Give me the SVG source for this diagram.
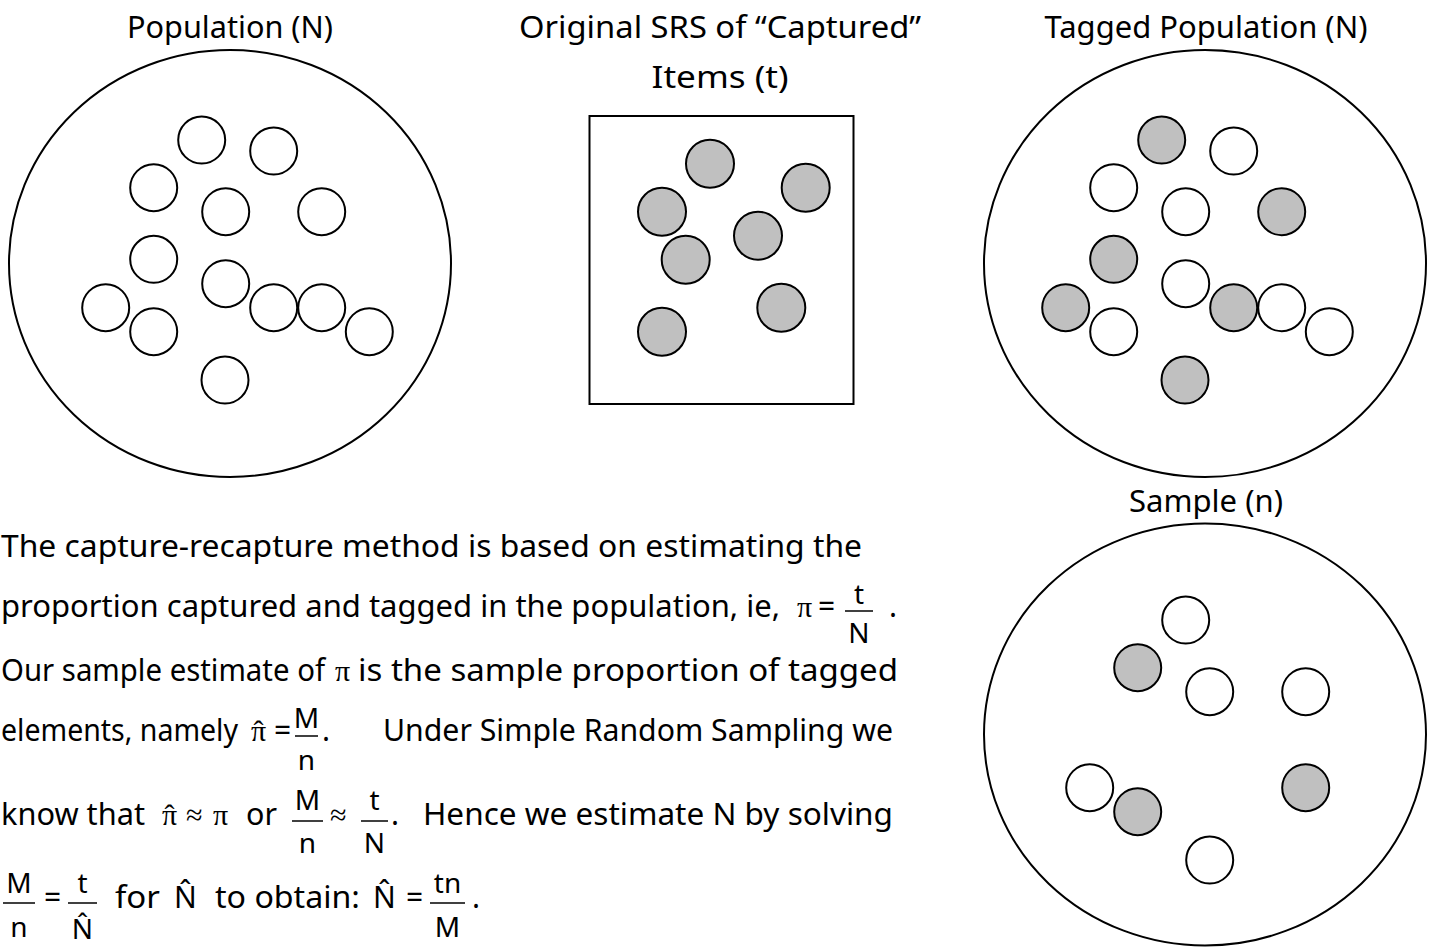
<svg xmlns="http://www.w3.org/2000/svg" width="1432" height="947" viewBox="0 0 1432 947">
<style>
.t{font-family:"Noto Sans","DejaVu Sans",sans-serif;font-size:30px;fill:#000}
.ti{font-family:"Noto Sans","DejaVu Sans",sans-serif;font-size:31px;fill:#000;text-anchor:middle}
.f{font-family:"Noto Sans","DejaVu Sans",sans-serif;font-size:28px;fill:#000;text-anchor:middle}
.m{font-family:"Liberation Serif","Times New Roman",serif;font-size:30px;fill:#000}
.h{font-family:"Liberation Serif","Times New Roman",serif;font-size:30px;fill:#000;text-anchor:middle}
.big{fill:#fff;stroke:#000;stroke-width:2}
.w{fill:#fff;stroke:#000;stroke-width:2}
.g{fill:#c0c0c0;stroke:#000;stroke-width:2}
.bar{stroke:#000;stroke-width:1.5}
</style>
<rect width="1432" height="947" fill="#fff"/>

<g id="population">
<text class="ti" x="230" y="38" textLength="206" lengthAdjust="spacingAndGlyphs">Population (N)</text>
<ellipse class="big" cx="230" cy="263.5" rx="221" ry="213.5"/>
<circle class="w" cx="201.7" cy="140" r="23.5"/>
<circle class="w" cx="273.7" cy="151" r="23.5"/>
<circle class="w" cx="153.7" cy="187.7" r="23.5"/>
<circle class="w" cx="225.7" cy="211.7" r="23.5"/>
<circle class="w" cx="321.7" cy="211.7" r="23.5"/>
<circle class="w" cx="153.7" cy="259.3" r="23.5"/>
<circle class="w" cx="225.7" cy="283.7" r="23.5"/>
<circle class="w" cx="105.7" cy="307.7" r="23.5"/>
<circle class="w" cx="273.7" cy="307.7" r="23.5"/>
<circle class="w" cx="321.7" cy="307.7" r="23.5"/>
<circle class="w" cx="153.7" cy="331.7" r="23.5"/>
<circle class="w" cx="369.3" cy="331.7" r="23.5"/>
<circle class="w" cx="225" cy="380" r="23.5"/>
</g>

<g id="srs-box">
<text class="ti" x="720" y="38" textLength="402" lengthAdjust="spacingAndGlyphs">Original SRS of “Captured”</text>
<text class="ti" x="720" y="88" textLength="137" lengthAdjust="spacingAndGlyphs">Items (t)</text>
<rect x="589.5" y="116" width="264" height="288" fill="#fff" stroke="#000" stroke-width="2"/>
<circle class="g" cx="710" cy="163.7" r="24"/>
<circle class="g" cx="805.7" cy="187.7" r="24"/>
<circle class="g" cx="662" cy="211.7" r="24"/>
<circle class="g" cx="758" cy="235.7" r="24"/>
<circle class="g" cx="685.7" cy="259.7" r="24"/>
<circle class="g" cx="781.3" cy="307.7" r="24"/>
<circle class="g" cx="662" cy="331.7" r="24"/>
</g>

<g id="tagged">
<text class="ti" x="1206" y="38" textLength="323" lengthAdjust="spacingAndGlyphs">Tagged Population (N)</text>
<ellipse class="big" cx="1205" cy="263.5" rx="221" ry="213.5"/>
<circle class="g" cx="1161.7" cy="140" r="23.5"/>
<circle class="w" cx="1233.7" cy="151" r="23.5"/>
<circle class="w" cx="1113.7" cy="187.7" r="23.5"/>
<circle class="w" cx="1185.7" cy="211.7" r="23.5"/>
<circle class="g" cx="1281.7" cy="211.7" r="23.5"/>
<circle class="g" cx="1113.7" cy="259.3" r="23.5"/>
<circle class="w" cx="1185.7" cy="283.7" r="23.5"/>
<circle class="g" cx="1065.7" cy="307.7" r="23.5"/>
<circle class="g" cx="1233.7" cy="307.7" r="23.5"/>
<circle class="w" cx="1281.7" cy="307.7" r="23.5"/>
<circle class="w" cx="1113.7" cy="331.7" r="23.5"/>
<circle class="w" cx="1329.3" cy="331.7" r="23.5"/>
<circle class="g" cx="1185" cy="380" r="23.5"/>
</g>

<g id="sample">
<text class="ti" x="1206" y="512" textLength="154" lengthAdjust="spacingAndGlyphs">Sample (n)</text>
<ellipse class="big" cx="1205" cy="734.5" rx="221" ry="211"/>
<circle class="w" cx="1185.7" cy="620" r="23.5"/>
<circle class="g" cx="1137.7" cy="667.7" r="23.5"/>
<circle class="w" cx="1209.7" cy="691.7" r="23.5"/>
<circle class="w" cx="1305.7" cy="691.7" r="23.5"/>
<circle class="w" cx="1089.7" cy="787.7" r="23.5"/>
<circle class="g" cx="1137.7" cy="811.7" r="23.5"/>
<circle class="g" cx="1305.7" cy="787.7" r="23.5"/>
<circle class="w" cx="1209.7" cy="860" r="23.5"/>
</g>

<g id="explanation">
<text class="t" x="1" y="557" textLength="861" lengthAdjust="spacingAndGlyphs">The capture-recapture method is based on estimating the</text>

<text class="t" x="1" y="617" textLength="779" lengthAdjust="spacingAndGlyphs">proportion captured and tagged in the population, ie,</text>
<text class="m" x="797" y="617">π</text>
<text class="t" x="818" y="617" font-size="26">=</text>
<text class="f" x="859" y="604">t</text>
<line class="bar" x1="845" y1="611" x2="873" y2="611"/>
<text class="f" x="859" y="643">N</text>
<text class="t" x="889" y="617">.</text>

<text class="t" x="1" y="681" textLength="324" lengthAdjust="spacingAndGlyphs">Our sample estimate of</text>
<text class="m" x="335" y="681">π</text>
<text class="t" x="358" y="681" textLength="540" lengthAdjust="spacingAndGlyphs">is the sample proportion of tagged</text>

<text class="t" x="1" y="741" textLength="237" lengthAdjust="spacingAndGlyphs">elements, namely</text>
<text class="m" x="251" y="741">π</text>
<text class="h" x="258.5" y="741">ˆ</text>
<text class="t" x="274" y="741" font-size="26">=</text>
<text class="f" x="306.5" y="728">M</text>
<line class="bar" x1="295" y1="736" x2="318" y2="736"/>
<text class="f" x="306.5" y="770">n</text>
<text class="t" x="322" y="741">.</text>
<text class="t" x="383" y="741" textLength="510" lengthAdjust="spacingAndGlyphs">Under Simple Random Sampling we</text>

<text class="t" x="1" y="825" textLength="144" lengthAdjust="spacingAndGlyphs">know that</text>
<text class="m" x="162" y="825">π</text>
<text class="h" x="169.5" y="825">ˆ</text>
<text class="m" x="186" y="825">≈</text>
<text class="m" x="213" y="825">π</text>
<text class="t" x="246" y="825" textLength="31" lengthAdjust="spacingAndGlyphs">or</text>
<text class="f" x="307.5" y="810">M</text>
<line class="bar" x1="292" y1="821" x2="323" y2="821"/>
<text class="f" x="307.5" y="853">n</text>
<text class="m" x="330" y="825">≈</text>
<text class="f" x="374.5" y="810">t</text>
<line class="bar" x1="361" y1="821" x2="388" y2="821"/>
<text class="f" x="374.5" y="853">N</text>
<text class="t" x="391" y="825">.</text>
<text class="t" x="423" y="825" textLength="470" lengthAdjust="spacingAndGlyphs">Hence we estimate N by solving</text>

<text class="f" x="19" y="893">M</text>
<line class="bar" x1="3" y1="903" x2="35" y2="903"/>
<text class="f" x="19" y="937">n</text>
<text class="t" x="44" y="908" font-size="26">=</text>
<text class="f" x="82.5" y="893">t</text>
<line class="bar" x1="68" y1="903" x2="97" y2="903"/>
<text class="f" x="82.5" y="939" font-size="26">N̂</text>
<text class="t" x="115" y="908" textLength="45" lengthAdjust="spacingAndGlyphs">for</text>
<text class="t" x="174" y="908">N̂</text>
<text class="t" x="215" y="908" textLength="145" lengthAdjust="spacingAndGlyphs">to obtain:</text>
<text class="t" x="373" y="908">N̂</text>
<text class="t" x="406" y="908" font-size="26">=</text>
<text class="f" x="447.5" y="893">tn</text>
<line class="bar" x1="430" y1="903" x2="465" y2="903"/>
<text class="f" x="447.5" y="937">M</text>
<text class="t" x="472" y="908">.</text>
</g>
</svg>
